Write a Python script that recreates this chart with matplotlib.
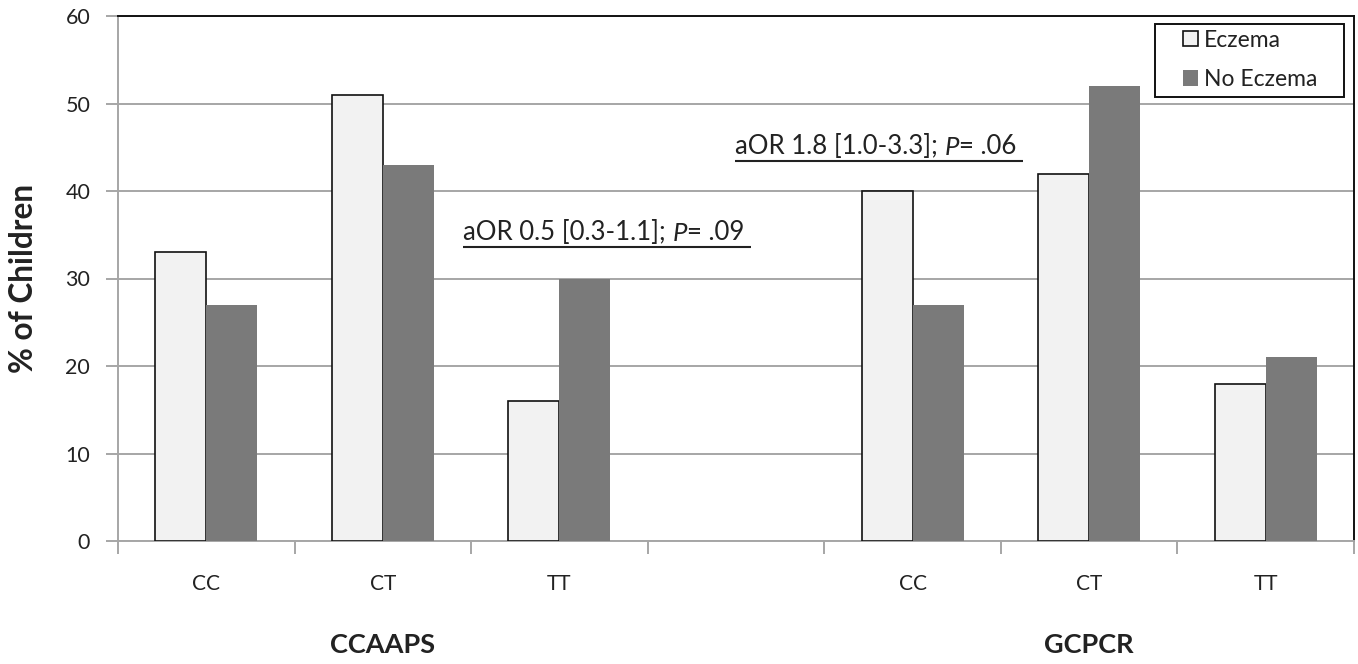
import matplotlib
matplotlib.use("Agg")
import matplotlib.pyplot as plt
from matplotlib.patches import Patch, Rectangle
import numpy as np

# ---- data ----
groups = ["CCAAPS", "GCPCR"]
genotypes = ["CC", "CT", "TT"]
eczema = {"CCAAPS": [33, 51, 16], "GCPCR": [40, 42, 18]}
no_eczema = {"CCAAPS": [27, 43, 30], "GCPCR": [27, 52, 21]}
annotations = [
    ("CCAAPS", "aOR 0.5 [0.3-1.1]; ", "P", "= .09 "),
    ("GCPCR", "aOR 1.8 [1.0-3.3]; ", "P", "= .06 "),
]
yticks = [0, 10, 20, 30, 40, 50, 60]

FONT = "Lato"
plt.rcParams["font.family"] = [FONT, "DejaVu Sans"]
TXT = "#222222"
GRID = "#a6a6a6"

W, H = 1358, 664
fig = plt.figure(figsize=(W / 100, H / 100), dpi=100)
ax = fig.add_axes([118 / W, 123 / H, 1236 / W, 525 / H])

n_g = len(genotypes)
slot_step = n_g + 1
bw = 0.289
centers = []
labels = []
for gi, g in enumerate(groups):
    base = gi * slot_step
    x = np.arange(n_g) + base + 0.5
    centers.extend(x)
    labels.extend(genotypes)
    ax.bar(x - bw / 2, eczema[g], width=bw, color="#f2f2f2",
           edgecolor="#111111", linewidth=1.2, zorder=3)
    ax.bar(x + bw / 2, no_eczema[g], width=bw, color="#7a7a7a",
           edgecolor="none", linewidth=0, zorder=3)

total_slots = slot_step * len(groups) - 1
ax.set_xlim(0, total_slots)
ax.set_ylim(0, 60)
ax.set_yticks(yticks)
ax.yaxis.grid(True, color=GRID, linewidth=1.4, zorder=0)
ax.set_axisbelow(True)

ax.set_xticks(np.arange(0, total_slots + 1))
ax.set_xticklabels([])
ax.set_xticks(centers, minor=True)
ax.set_xticklabels(labels, minor=True)
ax.tick_params(axis="x", which="major", length=9, width=1.4, color=GRID, direction="out")
ax.tick_params(axis="x", which="minor", length=0, pad=24, labelsize=15, labelcolor=TXT)
ax.tick_params(axis="y", length=9, width=1.4, color=GRID, pad=11, labelsize=15.5, labelcolor=TXT)

for s in ["left", "bottom"]:
    ax.spines[s].set_color(GRID)
    ax.spines[s].set_linewidth(1.4)
for s in ["top", "right"]:
    ax.spines[s].set_color("#111111")
    ax.spines[s].set_linewidth(1.4)

ax.set_ylabel("% of Children", fontsize=22.7, fontweight="bold", color=TXT)
ax.yaxis.set_label_coords(-0.0645, 0.5)

# group labels
for gi, g in enumerate(groups):
    cx = gi * slot_step + n_g / 2
    ax.text(cx, -0.198, g, transform=ax.get_xaxis_transform(), ha="center",
            va="center", fontsize=19.5, fontweight="bold", color=TXT)

# annotations
ann_pos = {"CCAAPS": (1.954, 34.4), "GCPCR": (3.495, 44.2)}
texts = []
for g, a, p, b in annotations:
    x0, y0 = ann_pos[g]
    t1 = ax.text(x0, y0, a, fontsize=18.5, color=TXT, ha="left", va="baseline")
    t2 = ax.annotate(p, xy=(1, 0), xycoords=t1, fontsize=18.5, color=TXT,
                     style="italic", ha="left", va="bottom")
    t3 = ax.annotate(b, xy=(1, 0), xycoords=t2, fontsize=18.5, color=TXT,
                     ha="left", va="bottom")
    texts.append((t1, t3, y0))

handles = [Patch(facecolor="#f2f2f2", edgecolor="#111111", linewidth=1.2, label="Eczema"),
           Patch(facecolor="#7a7a7a", edgecolor="none", label="No Eczema")]
leg = ax.legend(handles=handles, loc="center right",
                bbox_to_anchor=((1317 - 118) / 1236, (541 - 60) / 525),
                fontsize=16.5, frameon=False, handlelength=0.65, handleheight=0.65,
                handletextpad=0.25, borderpad=0, labelspacing=0.8, borderaxespad=0)
leg.set_zorder(7)
for t in leg.get_texts():
    t.set_color(TXT)

fig.canvas.draw()
r = fig.canvas.get_renderer()
inv = ax.transData.inverted()
for t1, t3, y0 in texts:
    b1 = t1.get_window_extent(r)
    b3 = t3.get_window_extent(r)
    xs = inv.transform([(b1.x0, b1.y0), (b3.x1, b1.y0)])
    ax.plot([xs[0][0], xs[1][0]], [y0 - 0.75, y0 - 0.75], color=TXT, lw=1.5,
            solid_capstyle="butt", zorder=4)

lb = leg.get_window_extent(r)
cy = (lb.y0 + lb.y1) / 2
fh = 73
frame = Rectangle((lb.x0 - 28, cy - fh / 2), lb.width + 28 + 27, fh, transform=None,
                  facecolor="white", edgecolor="#111111", linewidth=1.4, zorder=6)
ax.add_artist(frame)

fig.savefig("out.png", dpi=100)
